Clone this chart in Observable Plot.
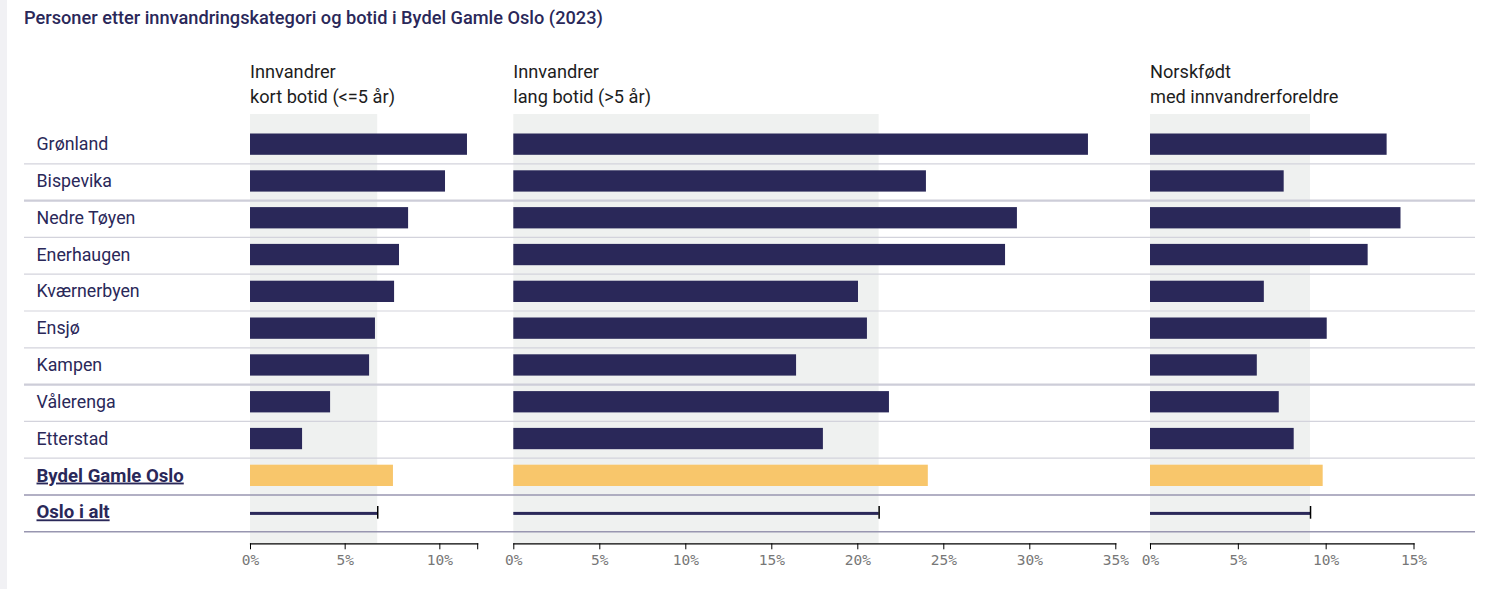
<!DOCTYPE html>
<html>
<head>
<meta charset="utf-8">
<script src="https://cdn.jsdelivr.net/npm/d3@7"></script>
<script src="https://cdn.jsdelivr.net/npm/@observablehq/plot@0.6"></script>
<style>
  html, body { margin: 0; padding: 0; background: #fff; }
  #wrap { position: relative; width: 1495px; height: 589px; overflow: hidden; font-family: Roboto, sans-serif; }
  #strip { position: absolute; left: 0; top: 0; width: 7px; height: 589px; background: #f1f1f4; }
  #title { position: absolute; left: 24px; top: 8px; font-size: 18.2px; line-height: 20px; font-weight: 500; color: #2a2859; white-space: nowrap; }
  .head { position: absolute; top: 60px; font-size: 18.2px; line-height: 24.5px; color: #1d1d1d; white-space: nowrap; }
  .layer { position: absolute; left: 0; top: 0; }
  .layer svg { background: transparent; }
</style>
</head>
<body>
<div id="wrap">
  <div id="strip"></div>
  <div id="title"></div>
</div>
<script>
// ---- data ----
const title = "Personer etter innvandringskategori og botid i Bydel Gamle Oslo (2023)";
const rows = ["Grønland","Bispevika","Nedre Tøyen","Enerhaugen","Kværnerbyen","Ensjø","Kampen","Vålerenga","Etterstad","Bydel Gamle Oslo","Oslo i alt"];
const kortBotid  = [11.46, 10.30, 8.35, 7.87, 7.61, 6.60, 6.29, 4.23, 2.75, 7.55, 6.72];
const langBotid  = [33.41, 23.99, 29.28, 28.59, 20.04, 20.56, 16.44, 21.84, 18.00, 24.10, 21.24];
const norskfodt  = [13.47, 7.61, 14.26, 12.39, 6.48, 10.06, 6.08, 7.33, 8.18, 9.83, 9.11];
const seriesTitles = [["Innvandrer","kort botid (<=5 år)"],["Innvandrer","lang botid (>5 år)"],["Norskfødt","med innvandrerforeldre"]];
const tickValues = [[0,5,10],[0,5,10,15,20,25,30,35],[0,5,10,15]];
const axisMax = [12, 35, 15];
const districtRow = "Bydel Gamle Oslo";
const totalRow = "Oslo i alt";
const groupEnds = ["Bispevika","Kampen"];
const summaryEnds = ["Bydel Gamle Oslo","Oslo i alt"];

(function draw() {
  const W = 1495, H = 589;
  const NAVY = "#2a2859", YELLOW = "#f8c66b", BAND = "#eff1f0";
  const yRange = [126.5, 531.3];
  const step = (yRange[1] - yRange[0]) / rows.length;
  const frameTop = 114, axisY = 543.3;
  const panelX = [[250, 477.2], [513.3, 1115.3], [1150, 1413.5]];
  const series = [kortBotid, langBotid, norskfodt];
  const yScale = {type: "band", domain: rows, range: yRange, padding: 0, round: false, axis: null};

  document.getElementById("title").textContent = title;
  const wrap = document.getElementById("wrap");

  series.forEach((vals, k) => {
    const data = rows.map((r, i) => ({row: r, value: vals[i]}));
    const bars = data.filter(d => d.row !== totalRow);
    const total = data.filter(d => d.row === totalRow);
    const ticks = [...tickValues[k]];
    if (!ticks.includes(axisMax[k])) ticks.push(axisMax[k]);
    const plot = Plot.plot({
      width: W, height: H,
      marginLeft: panelX[k][0], marginRight: W - panelX[k][1],
      marginTop: frameTop, marginBottom: H - axisY,
      x: {domain: [0, axisMax[k]], axis: null, label: null},
      y: yScale,
      style: {background: "transparent", overflow: "visible"},
      marks: [
        Plot.rect(total, {x1: 0, x2: "value", fill: BAND}),
        Plot.barX(bars, {x: "value", y: "row", fill: d => d.row === districtRow ? YELLOW : NAVY, insetTop: 7, insetBottom: 8.5}),
        Plot.barX(total, {x: "value", y: "row", fill: NAVY, insetTop: 17.4, insetBottom: 16.4}),
        Plot.tickX(total, {x: "value", y: "row", stroke: "#000", strokeWidth: 1.5, insetTop: 11.5, insetBottom: 12.6}),
        Plot.frame({anchor: "bottom", stroke: "#000", strokeWidth: 1.2}),
        Plot.axisX({ticks, tickSize: 6, tickPadding: 5, stroke: "#000", fill: "#777", label: null,
          tickFormat: d => tickValues[k].includes(d) ? `${d}%` : "",
          fontFamily: "'DejaVu Sans Mono', monospace", fontSize: 14.5})
      ]
    });
    const layer = document.createElement("div");
    layer.className = "layer";
    layer.appendChild(plot);
    wrap.appendChild(layer);

    const h = document.createElement("div");
    h.className = "head";
    h.style.left = panelX[k][0] + "px";
    h.innerHTML = seriesTitles[k].map(s => s.replace(/</g, "&lt;").replace(/>/g, "&gt;")).join("<br>");
    wrap.appendChild(h);
  });

  const normalRows = rows.filter(r => !groupEnds.includes(r) && !summaryEnds.includes(r));
  const boldRows = [districtRow, totalRow];
  const plainLabels = rows.filter(r => !boldRows.includes(r));
  const labels = Plot.plot({
    width: W, height: H,
    marginLeft: 24, marginRight: 20, marginTop: frameTop, marginBottom: H - axisY,
    x: {axis: null, label: null},
    y: yScale,
    style: {background: "transparent", overflow: "visible"},
    marks: [
      Plot.ruleY(normalRows, {y: d => d, dy: step / 2, stroke: "#d3d3dc", strokeWidth: 1.2}),
      Plot.ruleY(groupEnds, {y: d => d, dy: step / 2, stroke: "#cdcdd8", strokeWidth: 2.2}),
      Plot.ruleY(summaryEnds, {y: d => d, dy: step / 2, stroke: "#9896b0", strokeWidth: 1.5}),
      Plot.text(plainLabels, {y: d => d, text: d => d, frameAnchor: "left", textAnchor: "start", dx: 12, dy: -1,
        fill: NAVY, fontSize: 17.8, fontFamily: "Roboto, sans-serif"}),
      Plot.text(boldRows, {y: d => d, text: d => d, frameAnchor: "left", textAnchor: "start", dx: 12, dy: -1,
        fill: NAVY, fontSize: 18.6, fontWeight: "bold", fontFamily: "Roboto, sans-serif"})
    ]
  });
  d3.select(labels).selectAll("text")
    .filter(function() { return boldRows.includes(this.textContent); })
    .attr("text-decoration", "underline")
    .style("text-decoration", "underline")
    .style("text-decoration-thickness", "2px")
    .style("text-underline-offset", "3px");
  const topLayer = document.createElement("div");
  topLayer.className = "layer";
  topLayer.appendChild(labels);
  wrap.appendChild(topLayer);
})();
</script>
</body>
</html>
